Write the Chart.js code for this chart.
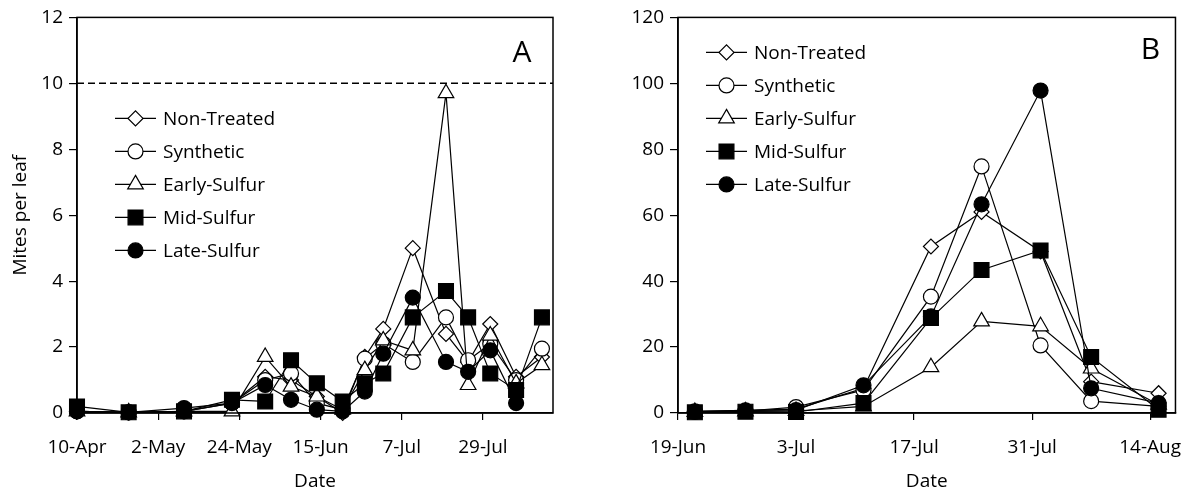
<!DOCTYPE html>
<html>
<head>
<meta charset="utf-8">
<script src="https://cdn.jsdelivr.net/npm/chart.js@4.4.0/dist/chart.umd.min.js"></script>
<style>
  html, body { margin: 0; padding: 0; background: #fff; }
  canvas { position: absolute; top: 0; }
  #grafico-a { left: 0; }
  #grafico-b { left: 590px; }
</style>
</head>
<body>
<canvas id="grafico-a" width="575" height="495"></canvas>
<canvas id="grafico-b" width="608" height="495"></canvas>
<script>
// Tratamientos
const series = ["Non-Treated", "Synthetic", "Early-Sulfur", "Mid-Sulfur", "Late-Sulfur"];

// Panel A
const fechasA = ["10-Apr", "24-Apr", "9-May", "22-May", "31-May", "7-Jun", "14-Jun", "21-Jun",
  "27-Jun", "2-Jul", "10-Jul", "19-Jul", "25-Jul", "31-Jul", "7-Aug", "14-Aug"];
const nonTreatedA = [0.05, 0.02, 0.05, 0.3, 1.1, 1.0, 0.5, 0.0, 1.7, 2.55, 5.0, 2.4, 1.55, 2.7, 1.1, 1.7];
const syntheticA = [0.05, 0.02, 0.05, 0.3, 1.0, 1.2, 0.3, 0.1, 1.65, 2.1, 1.55, 2.9, 1.6, 2.1, 1.0, 1.95];
const earlySulfurA = [0.05, 0.02, 0.05, 0.05, 1.7, 0.8, 0.5, 0.1, 1.3, 2.2, 1.9, 9.7, 0.85, 2.35, 0.9, 1.45];
const midSulfurA = [0.2, 0.02, 0.05, 0.4, 0.35, 1.6, 0.9, 0.35, 0.9, 1.2, 2.9, 3.7, 2.9, 1.2, 0.7, 2.9];
const lateSulfurA = [0.05, 0.02, 0.15, 0.3, 0.85, 0.4, 0.1, 0.05, 0.65, 1.8, 3.5, 1.55, 1.25, 1.9, 0.3, null];
const ticksA = ["10-Apr", "2-May", "24-May", "15-Jun", "7-Jul", "29-Jul"];
const yTicksA = [0, 2, 4, 6, 8, 10, 12];
const umbralA = 10;

// Panel B
const fechasB = ["21-Jun", "27-Jun", "3-Jul", "11-Jul", "19-Jul", "25-Jul", "1-Aug", "7-Aug", "15-Aug"];
const nonTreatedB = [0.5, 0.8, 1.2, 7.5, 50.5, 61, 49, 9.5, 6];
const syntheticB = [0.3, 0.6, 1.8, 7, 35.3, 74.8, 20.5, 3.6, 2];
const earlySulfurB = [0.3, 0.5, 0.6, 2, 13.9, 27.8, 26.3, 13.5, 2.5];
const midSulfurB = [0.2, 0.4, 0.3, 3, 28.8, 43.4, 49.3, 17, 1];
const lateSulfurB = [0.5, 0.8, 0.9, 8.4, 29.3, 63.3, 97.8, 7.5, 3];
const ticksB = ["19-Jun", "3-Jul", "17-Jul", "31-Jul", "14-Aug"];
const yTicksB = [0, 20, 40, 60, 80, 100, 120];

const finEje = "17-Aug";

// estilo de cada serie (marcador)
const estilos = [
  { pointStyle: "rectRot", radius: 7.5, fill: "#fff" },
  { pointStyle: "circle", radius: 7.5, fill: "#fff" },
  { pointStyle: "triangle", radius: 9, fill: "#fff" },
  { pointStyle: "rect", radius: 10.5, fill: "#000" },
  { pointStyle: "circle", radius: 7.5, fill: "#000" }
];

const fuente = { family: "'Open Sans', sans-serif", size: 19 };

// "10-Apr" -> dia del año
const meses = { Jan: 0, Feb: 31, Mar: 59, Apr: 90, May: 120, Jun: 151, Jul: 181, Aug: 212, Sep: 243 };
function dia(txt) {
  const [d, m] = txt.split("-");
  return meses[m] + parseInt(d);
}

function crearDatasets(fechas, valores) {
  return valores.map((vals, i) => ({
    label: series[i],
    data: vals.map((v, j) => ({ x: dia(fechas[j]), y: v })),
    borderColor: "#000",
    borderWidth: 1.2,
    backgroundColor: estilos[i].fill,
    pointStyle: estilos[i].pointStyle,
    pointRadius: estilos[i].radius,
    pointHoverRadius: estilos[i].radius,
    pointBackgroundColor: estilos[i].fill,
    pointBorderColor: "#000",
    pointBorderWidth: 1.2,
    tension: 0,
    fill: false,
    spanGaps: false,
    clip: false,
    order: series.length - i
  }));
}

// marco, leyenda interna, letra del panel y línea umbral
const panelPlugin = {
  id: "panel",
  beforeDatasetsDraw(chart, args, opts) {
    if (opts.umbral == null) return;
    const { ctx, chartArea: a } = chart;
    const y = chart.scales.y.getPixelForValue(opts.umbral);
    ctx.save();
    ctx.strokeStyle = "#000";
    ctx.lineWidth = 1.5;
    ctx.setLineDash([7, 4]);
    ctx.beginPath();
    ctx.moveTo(a.left, y);
    ctx.lineTo(a.right, y);
    ctx.stroke();
    ctx.restore();
  },
  afterDraw(chart, args, opts) {
    const { ctx, chartArea: a } = chart;
    ctx.save();
    ctx.strokeStyle = "#000";
    ctx.lineWidth = 1.5;
    ctx.strokeRect(a.left, a.top, a.right - a.left, a.bottom - a.top);

    // letra
    ctx.fillStyle = "#000";
    ctx.font = "30px 'Open Sans', sans-serif";
    ctx.textAlign = "center";
    ctx.textBaseline = "middle";
    ctx.fillText(opts.letra, a.right - opts.letraDx, a.top + opts.letraDy);

    // leyenda
    ctx.font = fuente.size + "px " + fuente.family;
    ctx.textAlign = "left";
    const x0 = a.left + opts.legX;
    series.forEach((nombre, i) => {
      const y = a.top + opts.legY + i * 33;
      ctx.strokeStyle = "#000";
      ctx.lineWidth = 1.2;
      ctx.beginPath();
      ctx.moveTo(x0, y);
      ctx.lineTo(x0 + 41, y);
      ctx.stroke();
      ctx.fillStyle = estilos[i].fill;
      Chart.helpers.drawPoint(ctx, {
        pointStyle: estilos[i].pointStyle,
        radius: estilos[i].radius,
        rotation: 0,
        borderWidth: 1.2
      }, x0 + 20.5, y);
      ctx.fillStyle = "#000";
      ctx.fillText(nombre, x0 + 48, y + 1);
    });
    ctx.restore();
  }
};

function crearGrafico(id, cfg) {
  new Chart(document.getElementById(id), {
    type: "line",
    data: { datasets: crearDatasets(cfg.fechas, cfg.valores) },
    options: {
      responsive: false,
      animation: false,
      events: [],
      layout: { padding: { top: cfg.top, right: cfg.right, left: 0, bottom: 0 } },
      plugins: {
        legend: { display: false },
        tooltip: { enabled: false },
        panel: cfg.panel
      },
      scales: {
        x: {
          type: "linear",
          min: dia(cfg.ticksX[0]),
          max: dia(finEje),
          afterBuildTicks: s => { s.ticks = cfg.ticksX.map(t => ({ value: dia(t) })); },
          afterFit: s => { s.height = 82; },
          ticks: {
            callback: (v, i) => cfg.ticksX[i],
            color: "#000",
            font: fuente,
            padding: 16,
            maxRotation: 0,
            autoSkip: false
          },
          grid: { drawOnChartArea: false, drawTicks: true, tickLength: 7, color: "#000", lineWidth: 1.2 },
          border: { display: true, color: "#000", width: 1.5 },
          title: { display: true, text: "Date", color: "#000", font: fuente, padding: { top: 0, bottom: 2 } }
        },
        y: {
          min: cfg.ticksY[0],
          max: cfg.ticksY[cfg.ticksY.length - 1],
          afterBuildTicks: s => { s.ticks = cfg.ticksY.map(v => ({ value: v })); },
          afterFit: s => { s.width = cfg.left; },
          ticks: { color: "#000", font: fuente, padding: 6 },
          grid: { drawOnChartArea: false, drawTicks: true, tickLength: 8, color: "#000", lineWidth: 1.2 },
          border: { display: true, color: "#000", width: 1.5 },
          title: {
            display: cfg.tituloY != null,
            text: cfg.tituloY,
            color: "#000",
            font: fuente,
            padding: { top: 9, bottom: 0 }
          }
        }
      }
    },
    plugins: [panelPlugin]
  });
}

crearGrafico("grafico-a", {
  fechas: fechasA,
  valores: [nonTreatedA, syntheticA, earlySulfurA, midSulfurA, lateSulfurA],
  ticksX: ticksA,
  ticksY: yTicksA,
  tituloY: "Mites per leaf",
  top: 16, right: 22, left: 77,
  panel: { umbral: umbralA, letra: "A", letraDx: 31, letraDy: 36, legX: 38, legY: 101 }
});

crearGrafico("grafico-b", {
  fechas: fechasB,
  valores: [nonTreatedB, syntheticB, earlySulfurB, midSulfurB, lateSulfurB],
  ticksX: ticksB,
  ticksY: yTicksB,
  tituloY: null,
  top: 15, right: 18, left: 88,
  panel: { umbral: null, letra: "B", letraDx: 25, letraDy: 33, legX: 28, legY: 35 }
});
</script>
</body>
</html>
